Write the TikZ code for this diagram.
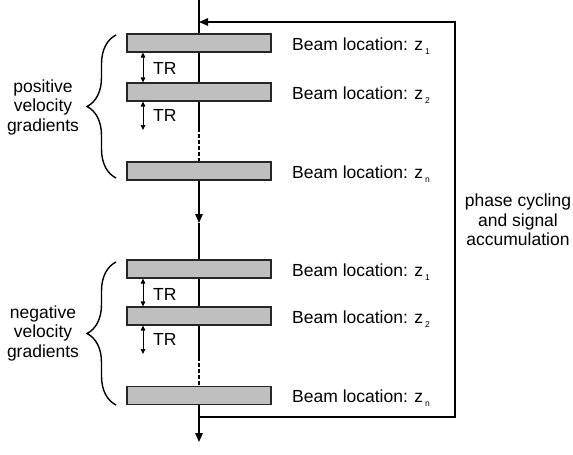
\documentclass[tikz,border=0pt]{standalone}
\usepackage{fontspec}
\setmainfont{Liberation Sans}
\usetikzlibrary{arrows.meta,decorations.pathreplacing}
\newcommand{\zsub}[1]{z\hspace{2pt}\raisebox{-4pt}{\fontsize{8.5}{8.5}\selectfont #1}}

\begin{document}
\begin{tikzpicture}[x=1pt,y=1pt,
  font=\fontsize{17.5}{19.5}\selectfont,
  every node/.style={inner sep=0pt},
  bar/.style={draw=black!85,line width=1.1pt,fill=black!25,minimum width=144pt,minimum height=18pt},
  loc/.style={anchor=base west},
  flow/.style={line width=1.4pt},
  tip/.style={-{Triangle[length=9pt,width=7.5pt]}},
  tr/.style={line width=0.9pt,{Triangle[length=5pt,width=4.5pt]}-{Triangle[length=5pt,width=4.5pt]}},
  grp/.style={align=center},
  brc/.style={decorate,decoration={brace,amplitude=29pt},line width=1.4pt}]
\useasboundingbox (0,0) rectangle (573,-455);
% beam locations
\node[bar] (p1) at (199,-43) {};
\node[bar] (p2) at (199,-92) {};
\node[bar] (pn) at (199,-171) {};
\node[bar] (n1) at (199,-269) {};
\node[bar] (n2) at (199,-316) {};
\node[bar] (nn) at (199,-395.5) {};
\node[loc] (lp1) at (292,-50) {Beam location: \zsub{1}};
\node[loc] (lp2) at (292,-99) {Beam location: \zsub{2}};
\node[loc] (lpn) at (292,-178) {Beam location: \zsub{n}};
\node[loc] (ln1) at (292,-276) {Beam location: \zsub{1}};
\node[loc] (ln2) at (292,-323) {Beam location: \zsub{2}};
\node[loc] (lnn) at (292,-402.5) {Beam location: \zsub{n}};
% main line
\coordinate (top) at (199,0);
\coordinate (pgap) at (199,-128);
\coordinate (mid) at (199,-223);
\coordinate (ngap) at (199,-357);
\coordinate (fb) at (199,-417);
\coordinate (out) at (199,-442);
\coordinate (ret) at (199,-22);
\coordinate (fbr) at (455,-22);
\draw[flow] (top) -- (p1);
\draw[flow] (p1) -- (p2);
\draw[flow] (p2) -- (pgap);
\draw[flow,dash pattern=on 4pt off 2pt] (pgap) -- (pn);
\draw[flow,tip] (pn) -- (mid);
\draw[flow] (mid) -- (n1);
\draw[flow] (n1) -- (n2);
\draw[flow] (n2) -- (ngap);
\draw[flow,dash pattern=on 4pt off 2pt] (ngap) -- (nn);
\draw[flow,tip] (nn) -- (out);
\draw[flow,tip] (fb) -| (fbr) -- (ret);
% repetition times
\coordinate (ptr) at (143,-130);
\coordinate (ntr) at (143,-354);
\draw[tr] ([xshift=-56pt]p1.south) -- ([xshift=-56pt]p2.north);
\draw[tr] ([xshift=-56pt]p2.south) -- (ptr);
\draw[tr] ([xshift=-56pt]n1.south) -- ([xshift=-56pt]n2.north);
\draw[tr] ([xshift=-56pt]n2.south) -- (ntr);
\node[loc] (tp1) at (153,-74) {TR};
\node[loc] (tp2) at (153,-121) {TR};
\node[loc] (tn1) at (153,-300) {TR};
\node[loc] (tn2) at (153,-345) {TR};
% groups
\draw[brc] (116,-178) -- (116,-35);
\draw[brc] (116,-405) -- (116,-262);
\node[grp] (gp) at (43,-107) {positive\\velocity\\gradients};
\node[grp] (gn) at (43,-333) {negative\\velocity\\gradients};
\node[grp] (pc) at (518,-220) {phase cycling\\and signal\\accumulation};
\end{tikzpicture}
\end{document}
